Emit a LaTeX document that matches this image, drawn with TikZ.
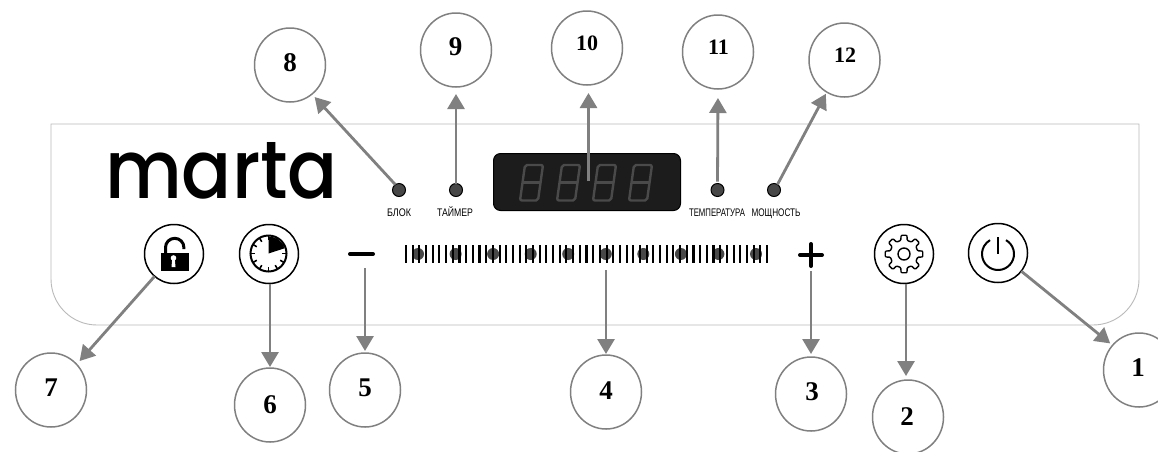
\documentclass[tikz,border=0pt]{standalone}
\usepackage{graphicx}
\usepackage{fontspec}
\usetikzlibrary{arrows.meta,shapes.geometric}
\setmainfont{Liberation Serif}
\newfontfamily\panelfont{Liberation Sans}
\newfontfamily\logofont{Poppins Medium}
\newcommand{\panellabel}[2]{\resizebox{#1}{11pt}{\fontsize{11}{11}\panelfont\rule{0pt}{11pt}#2}}
\definecolor{callout}{HTML}{808080}
\definecolor{ledfill}{HTML}{474747}
\definecolor{seg}{HTML}{4A4A4A}
\tikzset{
  x=1pt,y=-1pt,
  panelline/.style={draw=black!27,line width=0.9pt},
  callring/.style={ellipse,draw=callout,line width=1.5pt,fill=white,minimum width=71pt,minimum height=74pt,inner sep=0pt,outer sep=0pt},
  calltext/.style={inner sep=0pt,font=\fontsize{27}{27}\selectfont\bfseries},
  calltextsmall/.style={inner sep=0pt,font=\fontsize{22}{22}\selectfont\bfseries},
  callarrow/.style={draw=callout,line width=2.8pt,-{Triangle[length=15pt,width=17pt,fill=callout]}},
  touchbtn/.style={circle,draw=black,line width=1.5pt,fill=white,minimum size=59pt,inner sep=0pt,outer sep=0pt},
  led/.style={circle,draw=black,line width=1pt,fill=ledfill,minimum size=13pt,inner sep=0pt,outer sep=0pt},
  paneltext/.style={inner sep=0pt,outer sep=0pt,anchor=base},
  emptybox/.style={inner sep=0pt,outer sep=0pt,minimum width=#1},
}
\begin{document}
\begin{tikzpicture}
\useasboundingbox (0,0) rectangle (1158,451);
\fill[white] (0,0) rectangle (1158,451);
% panel
\draw[panelline] (51,124) -- (1139,124) -- (1139,279)
  arc[start angle=0,end angle=-90,radius=46pt] -- (97,325)
  arc[start angle=270,end angle=180,radius=46pt] -- cycle;
% logo
\node[inner sep=0pt,outer sep=0pt,anchor=south west] (logo) at (105,199)
  {\resizebox{233pt}{56pt}{\logofont marta}};
% display
\node[draw=black,line width=1pt,fill=black!89,rounded corners=7pt,minimum width=187pt,minimum height=57pt,inner sep=0pt,outer sep=0pt] (disp) at (587,182) {};
\foreach \d in {520,557,593,629}{
  \draw[seg,line width=2.4pt,rounded corners=2pt,line join=round]
    (\d,200.5) -- (\d+18,200.5) -- (\d+23,165) -- (\d+5,165) -- cycle;
  \draw[seg,line width=2.4pt] (\d+2.5,182.5) -- (\d+20.5,182.5);
}
% leds
\node[led] (l8) at (399,190) {};
\node[led] (l9) at (456,190) {};
\node[led] (l11) at (717.5,190) {};
\node[led] (l12) at (774,190) {};
\node[paneltext] (t8) at (399,216.5) {\panellabel{24pt}{БЛОК}};
\node[paneltext] (t9) at (455,216.5) {\panellabel{36pt}{ТАЙМЕР}};
\node[paneltext] (t11) at (717,216.5) {\panellabel{56pt}{ТЕМПЕРАТУРА}};
\node[paneltext] (t12) at (776,216.5) {\panellabel{49pt}{МОЩНОСТЬ}};
% slider
\node[emptybox=361pt,minimum height=18pt] (slider) at (586.5,254) {};
\foreach \x in {418,455.6,493.1,530.7,568.2,605.8,643.3,680.9,718.4,756}
  \fill[ledfill] (\x,254) circle[radius=6pt];
\foreach \i in {0,...,54}
  \draw[black,line width=2.1pt] (406+\i*6.685,245) -- (406+\i*6.685,263);
% minus and plus
\node[emptybox=27pt,minimum height=4pt] (minus) at (361.5,254) {};
\draw[black,line width=4pt,line cap=round] (350,254) -- (373,254);
\node[emptybox=26pt,minimum height=26pt] (plus) at (811,255) {};
\draw[black,line width=4pt,line cap=round] (800,255) -- (822,255) (811,244) -- (811,266);
% buttons
\node[touchbtn] (b7) at (174,254) {};
\node[touchbtn] (b6) at (269,254) {};
\node[touchbtn] (b2) at (904,254) {};
\node[touchbtn] (b1) at (998,253) {};
% lock icon
\fill[black] (161,253) rectangle (189,271);
\draw[black,line width=3pt] (165.5,253) -- (165.5,247.5) arc[start angle=180,end angle=0,radius=9.2pt] -- (183.9,249);
\fill[white] (173.5,258) circle[radius=2.8pt];
\fill[white] (172.3,258) -- (174.7,258) -- (175.5,267) -- (171.5,267) -- cycle;
% timer icon
\begin{scope}[shift={(268.5,253.5)}]
  \draw[black,line width=2pt] (0pt,0pt) circle[radius=18pt];
  \foreach \a in {0,30,...,330}
    \draw[black,line width=1.6pt] (\a:18pt) -- (\a:13.5pt);
  \fill[black] (0pt,0pt) -- (0pt,17pt) arc[start angle=90,end angle=18,radius=17pt] -- cycle;
\end{scope}
% gear icon
\begin{scope}[shift={(904,254)}]
  \draw[black,line width=1.4pt,rounded corners=1pt]
    (-9:19pt) \foreach \a in {0,45,...,315}{
      -- (\a-9:19pt) -- (\a+9:19pt) -- (\a+13:14pt) -- (\a+32:14pt)
    } -- cycle;
  \draw[black,line width=1.4pt] (0pt,0pt) circle[radius=6pt];
\end{scope}
% power icon
\begin{scope}[shift={(998,254)}]
  \draw[black,line width=2pt] (60:16pt) arc[start angle=60,end angle=-240,radius=16pt];
  \draw[black,line width=2.2pt] (0pt,17pt) -- (0pt,0pt);
\end{scope}
% callout rings
\node[callring] (c1) at (1139,370) {};
\node[callring] (c2) at (908,417) {};
\node[callring] (c3) at (811,394) {};
\node[callring] (c4) at (606,392) {};
\node[callring] (c5) at (365,390) {};
\node[callring] (c6) at (270,405) {};
\node[callring] (c7) at (51,390) {};
\node[callring] (c8) at (290,65) {};
\node[callring] (c9) at (456,50) {};
\node[callring] (c10) at (587,48) {};
\node[callring] (c11) at (718,52) {};
\node[callring] (c12) at (844.5,60) {};
% callout numbers
\node[calltext] (n1) at (1138,368) {1};
\node[calltext] (n2) at (907,417) {2};
\node[calltext] (n3) at (812,392) {3};
\node[calltext] (n4) at (606,391) {4};
\node[calltext] (n5) at (365,388) {5};
\node[calltext] (n6) at (270,405) {6};
\node[calltext] (n7) at (51,388) {7};
\node[calltext] (n8) at (290,63) {8};
\node[calltext] (n9) at (455.5,47) {9};
\node[calltextsmall] (n10) at (587,43) {10};
\node[calltextsmall] (n11) at (718.5,47) {11};
\node[calltextsmall] (n12) at (845,55) {12};
% connectors
\coordinate (s10) at (588.5,181);
\draw[callarrow,shorten >=3pt] (b1.-38) -- (c1.137);
\draw[callarrow,shorten >=4pt] ([xshift=2pt]b2.south) -- ([xshift=-2pt]c2.north);
\draw[callarrow,shorten <=3pt,shorten >=3pt] (plus.south) -- (c3.north);
\draw[callarrow,shorten <=7pt,shorten >=1pt] ([xshift=19.5pt]slider.south) -- (c4.north);
\draw[callarrow,shorten <=12pt,shorten >=2pt] ([xshift=3.5pt]minus.south) -- (c5.north);
\draw[callarrow,shorten >=1pt] ([xshift=1pt]b6.south) -- (c6.north);
\draw[callarrow,shorten >=4.5pt] (b7.-131) -- (c7.45);
\draw[callarrow,shorten >=4pt] (l8.124) -- (c8.-53);
\draw[callarrow,shorten >=7pt] (l9.north) -- (c9.south);
\draw[callarrow,shorten >=8pt] (s10) -- ([xshift=1.5pt]c10.south);
\draw[callarrow,shorten <=2pt,shorten >=9pt] (l11.north) -- (c11.south);
\draw[callarrow,shorten >=2pt] (l12.58) -- (c12.241);
\end{tikzpicture}
\end{document}
